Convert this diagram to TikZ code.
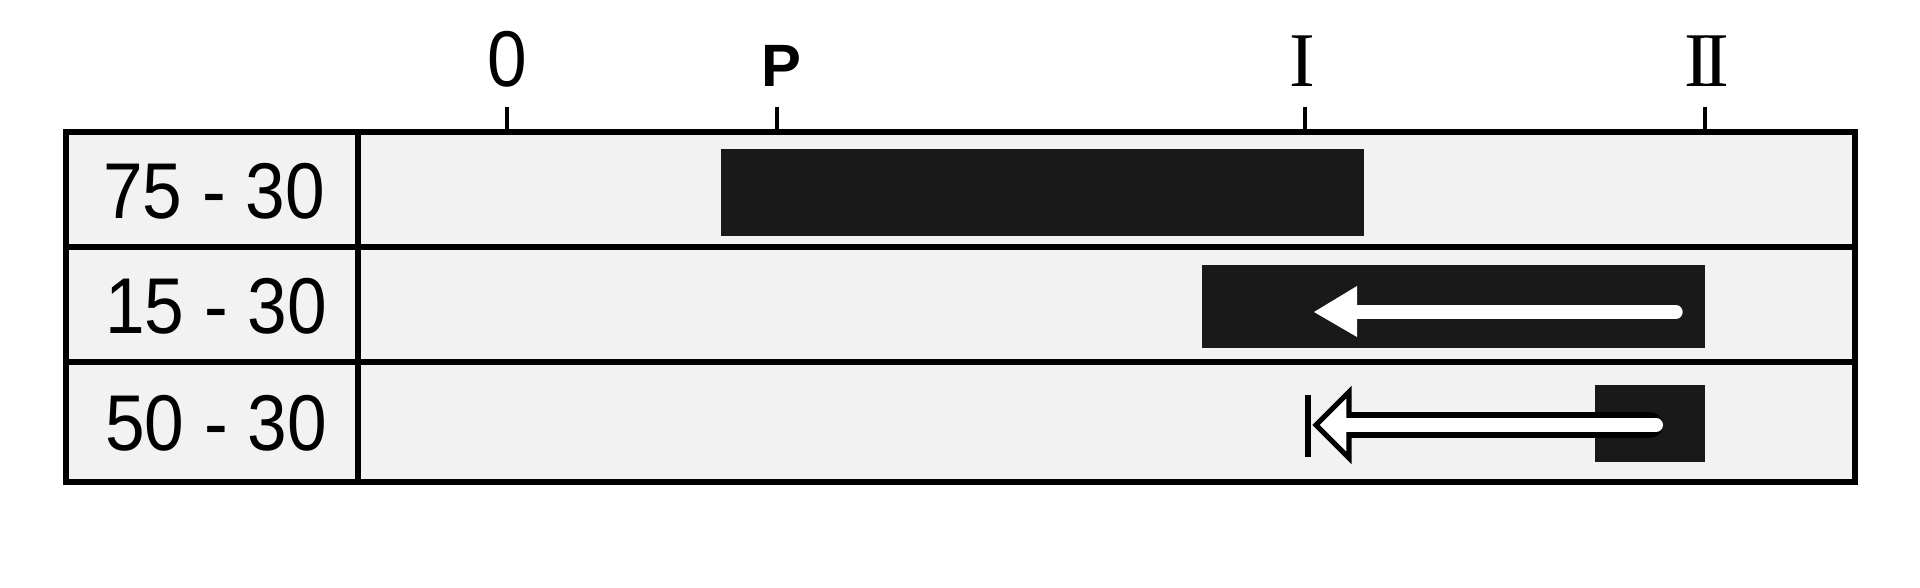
\documentclass[tikz,border=0pt]{standalone}
\usepackage{fontspec}
\setmainfont{Liberation Serif}
\setsansfont{Liberation Sans}
\newfontfamily\labfont[FakeStretch=0.9]{Liberation Sans}
\usetikzlibrary{positioning, calc}

\begin{document}
\begin{tikzpicture}
[x=0.01cm, y=-0.01cm,
 frame/.style={line width=1.6pt, draw=black},
 bar/.style={fill=black!90},
 lab/.style={font=\labfont\fontsize{22.5}{24}\selectfont, inner sep=0pt},
 axlab/.style={font=\labfont\fontsize{22.5}{24}\selectfont, inner sep=0pt},
 roman/.style={font=\rmfamily\fontsize{22}{24}\selectfont, inner sep=0pt},
 tickline/.style={line width=1.4pt}]

\useasboundingbox (0,0) rectangle (1920,588);

% table frame and cells
\fill[black!5] (66,132) rectangle (1855,482);
\draw[frame] (66,132) rectangle (1855,482);
\draw[frame] (66,247) -- (1855,247);
\draw[frame] (66,362) -- (1855,362);
\draw[frame] (358,132) -- (358,482);

% row labels
\node[lab] (r1) at (214,191) {75 - 30};
\node[lab] (r2) at (216,306) {15 - 30};
\node[lab] (r3) at (216,423) {50 - 30};

% scale marks and their labels
\coordinate (t0) at (507,132);
\coordinate (tP) at (777,132);
\coordinate (tI) at (1305,132);
\coordinate (tII) at (1705,132);
\node[axlab] (l0) at (507,59) {0};
\node[axlab, font=\sffamily\bfseries\fontsize{17}{20}\selectfont] (lP) at (781,66) {P};
\node[roman] (lI) at (1302,61) {I};
\node[roman] (lII) at (1707,61) {I\kern-0.09em I};
\draw[tickline] (t0) -- ++(0,-25);
\draw[tickline] (tP) -- ++(0,-25);
\draw[tickline] (tI) -- ++(0,-25);
\draw[tickline] (tII) -- ++(0,-25);

% first row
\fill[bar] (721,149) rectangle (1364,236);

% second row
\fill[bar] (1202,265) rectangle (1705,348);
\draw[white, line width=3.8pt, line cap=round] (1345,312) -- (1676,312);
\fill[white] (1314,312) -- (1357,286) -- (1357,337) -- cycle;

% third row
\fill[bar] (1595,385) rectangle (1705,462);
\draw[black, line width=7.4pt, line cap=round] (1345,425) -- (1650,425);
\draw[black, line width=1.5pt, fill=white, line join=miter]
  (1316,425) -- (1349,392) -- (1349,458) -- cycle;
\draw[white, line width=4pt, line cap=round] (1343,425) -- (1656,425);
\draw[black, line width=1.7pt] (1308,395) -- (1308,457);

\end{tikzpicture}
\end{document}
